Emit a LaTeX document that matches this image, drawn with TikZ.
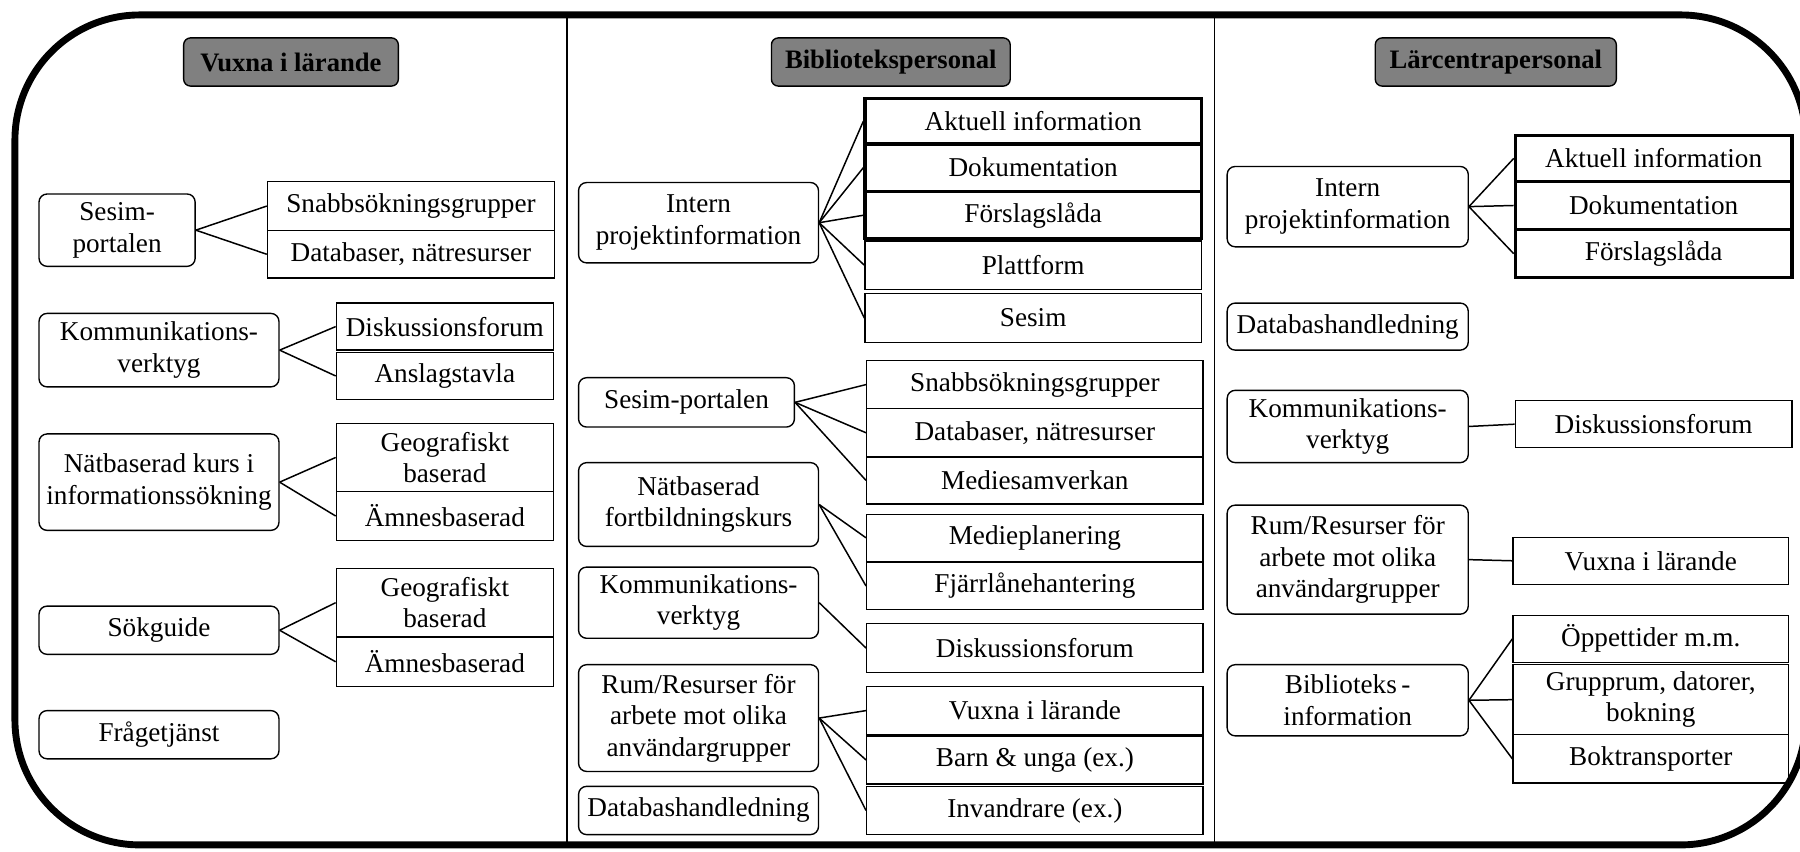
\documentclass[tikz,border=0pt]{standalone}
\usepackage{fontspec}
\setmainfont{Liberation Serif}
\definecolor{hdrgray}{HTML}{808080}
\tikzset{
  base/.style={draw=black, line width=1.2pt, align=center, inner sep=0pt,
    font=\fontsize{23.7}{27.5}\selectfont},
  parent/.style={base, rounded corners=7pt},
  leaf/.style={base},
  leafthick/.style={base, line width=2.8pt},
  header/.style={base, rounded corners=6pt, fill=hdrgray,
    font=\fontsize{23.2}{27.5}\selectfont\bfseries},
  conn/.style={line width=1.3pt},
  divider/.style={line width=1.3pt},
  frame/.style={line width=6pt, rounded corners=109pt},
}
\begin{document}
\begin{tikzpicture}[x=1pt,y=-1pt]
\useasboundingbox[fill=white] (0,0) rectangle (1568,742);

% column dividers
\draw[divider] (494,13) -- (494,736);
\draw[divider] (1058,13) -- (1058,736);

% ---------- Column 1 ----------
\node[header, minimum width=187pt, minimum height=42pt] (h1) at (253.5,54) {Vuxna i lärande};

\node[parent, minimum width=136pt, minimum height=63pt] (p1a) at (102,200.5) {Sesim-\\portalen};
\node[leaf, minimum width=250pt, minimum height=43pt] (c1a1) at (358,179.5) {Snabbsökningsgrupper};
\node[leaf, minimum width=250pt, minimum height=41pt] (c1a2) at (358,221.5) {Databaser, nätresurser};

\node[parent, minimum width=209pt, minimum height=64pt] (p1b) at (138.5,305) {Kommunikations-\\verktyg};
\node[leaf, minimum width=189pt, minimum height=41pt] (c1b1) at (387.5,284.5) {Diskussionsforum};
\node[leaf, minimum width=189pt, minimum height=41pt] (c1b2) at (387.5,327.5) {Anslagstavla};

\node[parent, minimum width=209pt, minimum height=84pt] (p1c) at (138.5,420) {Nätbaserad kurs i\\informationssökning};
\node[leaf, minimum width=189pt, minimum height=59pt] (c1c1) at (387.5,398.5) {Geografiskt\\baserad};
\node[leaf, minimum width=189pt, minimum height=43pt] (c1c2) at (387.5,449.5) {Ämnesbaserad};

\node[parent, minimum width=209pt, minimum height=42pt] (p1d) at (138.5,549) {Sökguide};
\node[leaf, minimum width=189pt, minimum height=60pt] (c1d1) at (387.5,525) {Geografiskt\\baserad};
\node[leaf, minimum width=189pt, minimum height=43pt] (c1d2) at (387.5,576.5) {Ämnesbaserad};

\node[parent, minimum width=209pt, minimum height=42pt] (p1e) at (138.5,640) {Frågetjänst};

\draw[conn] (p1a.east) -- (c1a1.west);
\draw[conn] (p1a.east) -- (c1a2.west);
\draw[conn] (p1b.east) -- (c1b1.west);
\draw[conn] (p1b.east) -- (c1b2.west);
\draw[conn] (p1c.east) -- (c1c1.west);
\draw[conn] (p1c.east) -- (c1c2.west);
\draw[conn] (p1d.east) -- (c1d1.west);
\draw[conn] (p1d.east) -- (c1d2.west);

% ---------- Column 2 ----------
\node[header, minimum width=208pt, minimum height=42pt] (h2) at (776,54) {Bibliotekspersonal};

\node[parent, minimum width=209pt, minimum height=70pt] (p2a) at (608.5,194) {Intern\\projektinformation};
\node[leafthick, minimum width=293pt, minimum height=39pt] (c2a1) at (900,105.5) {Aktuell information};
\node[leafthick, minimum width=293pt, minimum height=41pt] (c2a2) at (900,146) {Dokumentation};
\node[leafthick, minimum width=293pt, minimum height=41pt] (c2a3) at (900,187.5) {Förslagslåda};
\node[leaf, minimum width=293pt, minimum height=42pt] (c2a4) at (900,231) {Plattform};
\node[leaf, minimum width=293pt, minimum height=43pt] (c2a5) at (900,277) {Sesim};

\node[parent, minimum width=188pt, minimum height=43pt] (p2b) at (598,350.5) {Sesim-portalen};
\node[leaf, minimum width=293pt, minimum height=42pt] (c2b1) at (901.5,335) {Snabbsökningsgrupper};
\node[leaf, minimum width=293pt, minimum height=42pt] (c2b2) at (901.5,377) {Databaser, nätresurser};
\node[leaf, minimum width=293pt, minimum height=41pt] (c2b3) at (901.5,418.5) {Mediesamverkan};

\node[parent, minimum width=209pt, minimum height=73pt] (p2c) at (608.5,439.5) {Nätbaserad\\fortbildningskurs};
\node[leaf, minimum width=293pt, minimum height=41pt] (c2c1) at (901.5,468.5) {Medieplanering};
\node[leaf, minimum width=293pt, minimum height=41pt] (c2c2) at (901.5,510.5) {Fjärrlånehantering};

\node[parent, minimum width=209pt, minimum height=62pt] (p2d) at (608.5,525) {Kommunikations-\\verktyg};
\node[leaf, minimum width=293pt, minimum height=43pt] (c2d1) at (901.5,564.5) {Diskussionsforum};

\node[parent, minimum width=209pt, minimum height=93pt] (p2e) at (608.5,625.5) {Rum/Resurser för\\arbete mot olika\\användargrupper};
\node[leaf, minimum width=293pt, minimum height=42pt] (c2e1) at (901.5,619) {Vuxna i lärande};
\node[leaf, minimum width=293pt, minimum height=42pt] (c2e2) at (901.5,662) {Barn \& unga (ex.)};
\node[leaf, minimum width=293pt, minimum height=42pt] (c2e3) at (901.5,706) {Invandrare (ex.)};

\node[parent, minimum width=209pt, minimum height=42pt] (p2f) at (608.5,706) {Databashandledning};

\foreach \c in {c2a1,c2a2,c2a3,c2a4,c2a5} {\draw[conn] (p2a.east) -- (\c.west);}
\foreach \c in {c2b1,c2b2,c2b3} {\draw[conn] (p2b.east) -- (\c.west);}
\foreach \c in {c2c1,c2c2} {\draw[conn] (p2c.east) -- (\c.west);}
\draw[conn] (p2d.east) -- (c2d1.west);
\foreach \c in {c2e1,c2e2,c2e3} {\draw[conn] (p2e.east) -- (\c.west);}

% ---------- Column 3 ----------
\node[header, minimum width=210pt, minimum height=42pt] (h3) at (1303,54) {Lärcentrapersonal};

\node[parent, minimum width=210pt, minimum height=70pt] (p3a) at (1174,180) {Intern\\projektinformation};
\node[leafthick, minimum width=241pt, minimum height=40pt] (c3a1) at (1440.5,138) {Aktuell information};
\node[leafthick, minimum width=241pt, minimum height=42pt] (c3a2) at (1440.5,179) {Dokumentation};
\node[leafthick, minimum width=241pt, minimum height=42pt] (c3a3) at (1440.5,221) {Förslagslåda};

\node[parent, minimum width=210pt, minimum height=41pt] (p3b) at (1174,284.5) {Databashandledning};

\node[parent, minimum width=210pt, minimum height=63pt] (p3c) at (1174,371.5) {Kommunikations-\\verktyg};
\node[leaf, minimum width=241pt, minimum height=41pt] (c3c1) at (1440.5,369.5) {Diskussionsforum};

\node[parent, minimum width=210pt, minimum height=95pt] (p3d) at (1174,487.5) {Rum/Resurser för\\arbete mot olika\\användargrupper};
\node[leaf, minimum width=240pt, minimum height=41pt] (c3d1) at (1438,488.5) {Vuxna i lärande};

\node[parent, minimum width=210pt, minimum height=62pt] (p3e) at (1174,610) {Biblioteks\,-\\information};
\node[leaf, minimum width=240pt, minimum height=41pt] (c3e1) at (1438,556.5) {Öppettider m.m.};
\node[leaf, minimum width=240pt, minimum height=61pt] (c3e2) at (1438,609.5) {Grupprum, datorer,\\bokning};
\node[leaf, minimum width=240pt, minimum height=42pt] (c3e3) at (1438,661) {Boktransporter};

\foreach \c in {c3a1,c3a2,c3a3} {\draw[conn] (p3a.east) -- (\c.west);}
\draw[conn] (p3c.east) -- (c3c1.west);
\draw[conn] (p3d.east) -- (c3d1.west);
\foreach \c in {c3e1,c3e2,c3e3} {\draw[conn] (p3e.east) -- (\c.west);}

% outer frame
\draw[frame] (13,13) rectangle (1573,736);
\end{tikzpicture}
\end{document}
